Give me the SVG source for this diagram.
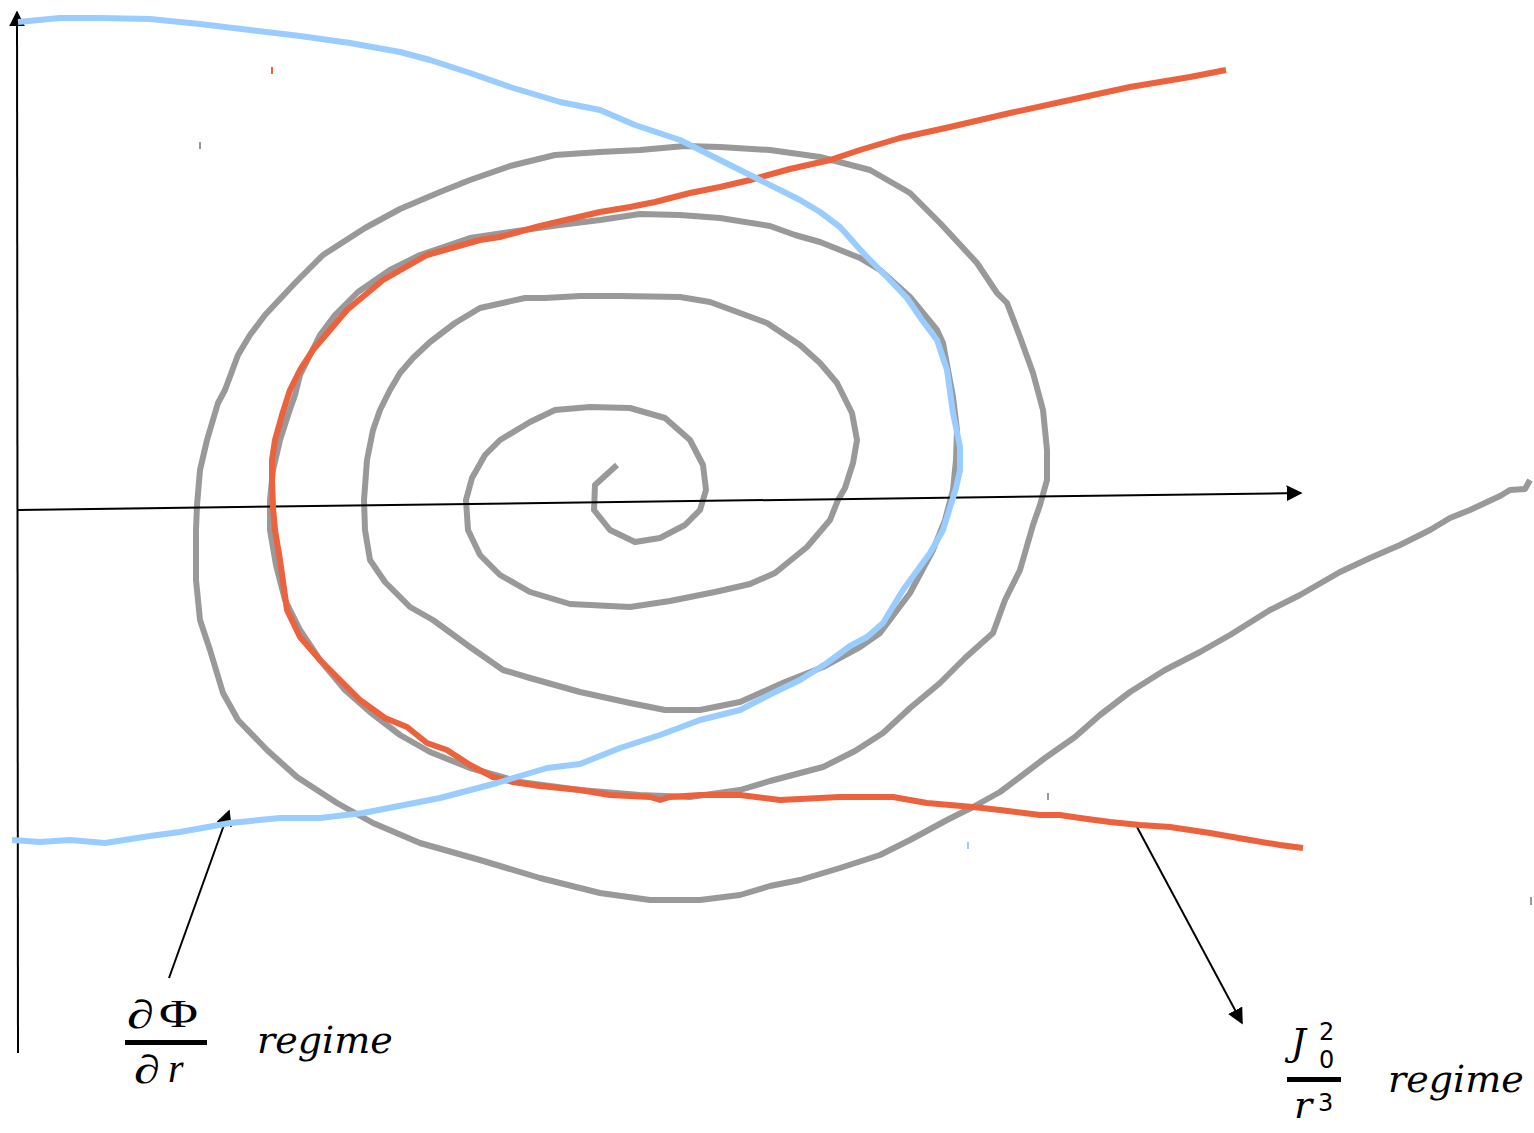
<svg xmlns="http://www.w3.org/2000/svg" width="1534" height="1133" viewBox="0 0 1534 1133">
<style>
.curve{fill:none;stroke-width:6;stroke-linejoin:round;stroke-linecap:butt}
.gray{stroke:#999999}
.red{stroke:#EB623D}
.blue{stroke:#99CCFF}
.axis{fill:none;stroke:#000;stroke-width:2}
.tick{stroke-width:2}
.t{font-family:"Liberation Serif",serif;font-size:40px;fill:#000}
.m{font-family:"DejaVu Serif",serif;font-size:38px;fill:#000}
.i{font-style:italic}
.s{font-family:"DejaVu Sans",sans-serif;font-size:24px;fill:#000}
</style>
<defs>
<marker id="ah2" viewBox="0 0 10 10" refX="9" refY="5" markerWidth="16" markerHeight="16" markerUnits="userSpaceOnUse" orient="auto"><path d="M0,0 L10,5 L0,10 Z" fill="#000"/></marker>
</defs>
<g id="spiral">
<polyline class="curve gray" points="617,465 595,485 594,510 610,530 635,542 660,538 685,525 700,510 706,490 703,465 690,440 665,418 630,408 590,407 555,410 530,422 500,440 485,455 472,478 466,500 468,530 480,555 500,575 530,592 570,604 630,607 670,601 715,592 750,584 775,573 807,547 830,520 838,500 845,488 853,463 857,440 852,413 837,383 820,363 800,345 767,323 740,313 710,302 680,297 620,296 580,296 545,298 525,298 480,308 455,323 430,342 413,358 400,373 390,390 380,410 373,430 367,460 364,500 365,530 370,560 385,582 410,607 433,620 470,647 503,670 530,678 580,692 630,703 665,710 700,710 740,702 785,682 823,667 860,647 880,633 910,593 933,550 945,520 953,490 956,460 957,430 953,397 943,343 937,330 910,297 880,270 860,258 820,242 795,235 770,226 720,218 680,215 640,214 600,220 560,225 510,232 470,238 420,255 390,270 358,292 335,315 320,335 310,355 300,375 295,395 288,415 280,440 273,470 270,500 270,530 276,565 285,600 300,630 320,660 345,690 370,712 400,735 430,752 470,768 520,782 580,790 640,795 690,797 740,790 770,781 823,767 855,751 883,733 910,708 940,683 965,658 993,633 1005,600 1020,570 1033,525 1040,505 1047,480 1047,450 1043,410 1033,373 1020,337 1007,303 997,293 977,263 940,223 910,193 870,170 820,157 770,150 720,147 685,146 640,150 600,152 555,155 510,166 470,180 440,192 400,209 365,228 323,255 295,283 265,315 250,335 238,355 225,390 218,403 207,440 200,470 197,505 196,530 196,580 200,620 210,650 223,693 238,720 267,750 297,777 337,803 373,823 420,843 480,860 540,878 600,893 650,900 700,900 740,895 770,886 800,880 840,868 880,855 910,840 947,820 973,807 1000,792 1020,777 1045,758 1075,737 1100,715 1130,692 1165,670 1200,652 1230,635 1270,610 1300,595 1340,572 1370,558 1400,545 1430,530 1450,518 1470,510 1500,496 1510,490 1525,489 1530,480"/>
</g>
<g id="connectors">
<line class="axis" x1="18" y1="1053" x2="17" y2="12" marker-end="url(#ah2)"/>
<line class="axis" x1="18" y1="510" x2="1301" y2="493" marker-end="url(#ah2)"/>
<line class="axis" x1="169" y1="978" x2="229" y2="811" marker-end="url(#ah2)"/>
<line class="axis" x1="1137" y1="827" x2="1242" y2="1023" marker-end="url(#ah2)"/>
</g>
<g id="red-curve">
<polyline class="curve red" points="1226,70 1190,77 1130,87 1070,100 1010,113 950,127 900,138 860,150 830,160 790,169 750,180 720,187 690,193 655,202 630,207 600,212 570,219 540,226 500,237 480,240 427,255 383,280 347,310 313,350 300,370 290,390 282,415 275,440 272,460 272,480 273,507 275,530 280,560 287,610 300,637 320,660 340,680 360,700 385,718 407,727 427,743 447,750 470,765 493,777 513,782 540,786 580,790 610,795 650,797 660,800 670,797 700,795 740,795 780,800 840,797 893,797 927,803 973,807 1000,810 1040,815 1060,815 1080,818 1110,822 1140,825 1170,827 1210,833 1250,840 1280,845 1303,848"/>
</g>
<g id="blue-curve">
<polyline class="curve blue" points="18,22 60,18 100,18 150,19 200,24 250,30 300,36 350,43 400,52 430,60 470,73 510,87 560,102 600,110 635,125 680,140 720,160 760,180 800,200 820,212 840,227 865,255 887,277 907,298 922,320 937,340 947,370 953,413 960,447 960,470 956,488 943,530 930,553 903,590 883,623 867,637 850,646 827,663 800,680 773,693 740,710 700,720 660,735 620,748 580,764 547,768 497,783 440,798 363,813 320,818 280,818 230,823 180,832 150,836 105,843 70,840 40,842 12,840"/>
</g>
<g id="marks">
<line class="tick" x1="272" y1="67" x2="272" y2="74" stroke="#EB623D"/>
<line class="tick" x1="200" y1="142" x2="200" y2="149" stroke="#999999"/>
<line class="tick" x1="968" y1="842" x2="968" y2="849" stroke="#99CCFF"/>
<line class="tick" x1="1048" y1="793" x2="1048" y2="800" stroke="#999999"/>
<line class="tick" x1="1531" y1="897" x2="1531" y2="905" stroke="#999999"/>
</g>
<g id="label-dphi">
<text class="t i" x="127" y="1028" textLength="27" lengthAdjust="spacingAndGlyphs">∂</text>
<text class="t" x="159" y="1027" textLength="39" lengthAdjust="spacingAndGlyphs">Φ</text>
<rect x="125" y="1040" width="82" height="5" fill="#000"/>
<text class="t i" x="134" y="1083" textLength="26" lengthAdjust="spacingAndGlyphs">∂</text>
<text class="t i" x="168" y="1082">r</text>
<text class="m i" x="257" y="1053">regime</text>
</g>
<g id="label-j">
<text class="m i" x="1291" y="1055" style="font-size:37px">J</text>
<text class="s" x="1319" y="1040">2</text>
<text class="s" x="1319" y="1068">0</text>
<rect x="1287" y="1077" width="54" height="5" fill="#000"/>
<text class="m i" x="1294" y="1118">r</text>
<text class="s" x="1318" y="1111">3</text>
<text class="m i" x="1388" y="1092">regime</text>
</g>
</svg>
